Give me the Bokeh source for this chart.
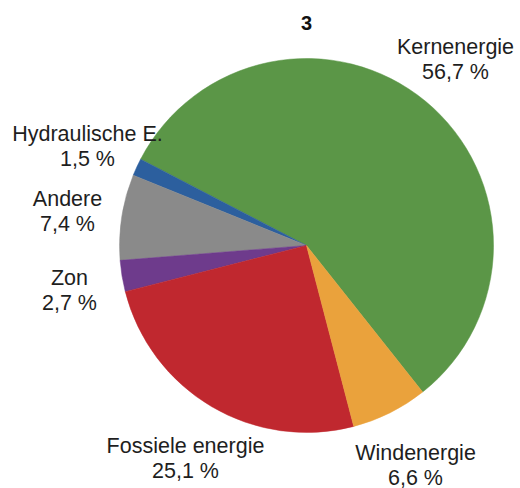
import math
from bokeh.plotting import figure
from bokeh.models import ColumnDataSource, Range1d
from bokeh.core.properties import value
from bokeh.embed import file_html
from bokeh.resources import INLINE

# Data (counter-clockwise order starting at lower-right boundary)
categories = ["Kernenergie", "Hydraulische E.", "Andere", "Zon", "Fossiele energie", "Windenergie"]
shares = [56.7, 1.5, 7.4, 2.7, 25.1, 6.6]
colors = ["#5b9647", "#2c5f9e", "#8a8a8a", "#6e3b8c", "#c0282f", "#eaa23c"]
title_text = "3"

W, H = 520, 488
p = figure(width=W, height=H, output_backend="svg", toolbar_location=None,
           x_range=Range1d(0, W), y_range=Range1d(0, H), min_border=0)
p.axis.visible = False
p.grid.visible = False
p.outline_line_color = None
p.background_fill_color = "white"

def px(X, Y):
    return X, H - Y

cx, cy = px(306, 245)
radius = 187
start_deg = -51.6
total = sum(shares)
starts, ends = [], []
a = math.radians(start_deg)
for s in shares:
    starts.append(a)
    a += 2 * math.pi * s / total
    ends.append(a)

src = ColumnDataSource(dict(start=starts, end=ends, color=colors,
                            x=[cx] * len(shares), y=[cy] * len(shares)))
p.wedge(x="x", y="y", radius=radius, start_angle="start", end_angle="end",
        fill_color="color", line_color="color", line_width=0.5, source=src)

# label positions (centre of name line, image px)
label_pos = [(455, 46), (87, 133), (67, 198), (69, 277), (185, 445), (415, 452)]
line_gap = 25
names_x, names_y, pct_x, pct_y, pct_text = [], [], [], [], []
for (X, Y), s in zip(label_pos, shares):
    x, y = px(X, Y)
    names_x.append(x); names_y.append(y)
    x2, y2 = px(X, Y + line_gap)
    pct_x.append(x2); pct_y.append(y2)
    pct_text.append(f"{s:.1f}".replace(".", ",") + " %")

FS = "21.5px"
p.text(x=names_x, y=names_y, text=categories, text_font=value("Liberation Sans"),
       text_font_size=FS, text_color="#1e1e1e", text_align="center",
       text_baseline="middle")
p.text(x=pct_x, y=pct_y, text=pct_text, text_font=value("Liberation Sans"),
       text_font_size=FS, text_color="#1e1e1e", text_align="center",
       text_baseline="middle")

tx, ty = px(306, 22)
p.text(x=[tx], y=[ty], text=[title_text], text_font=value("Liberation Sans"),
       text_font_size="20px", text_font_style="bold", text_color="#111111",
       text_align="center", text_baseline="middle")

open("out.html", "w").write(file_html(p, INLINE))
